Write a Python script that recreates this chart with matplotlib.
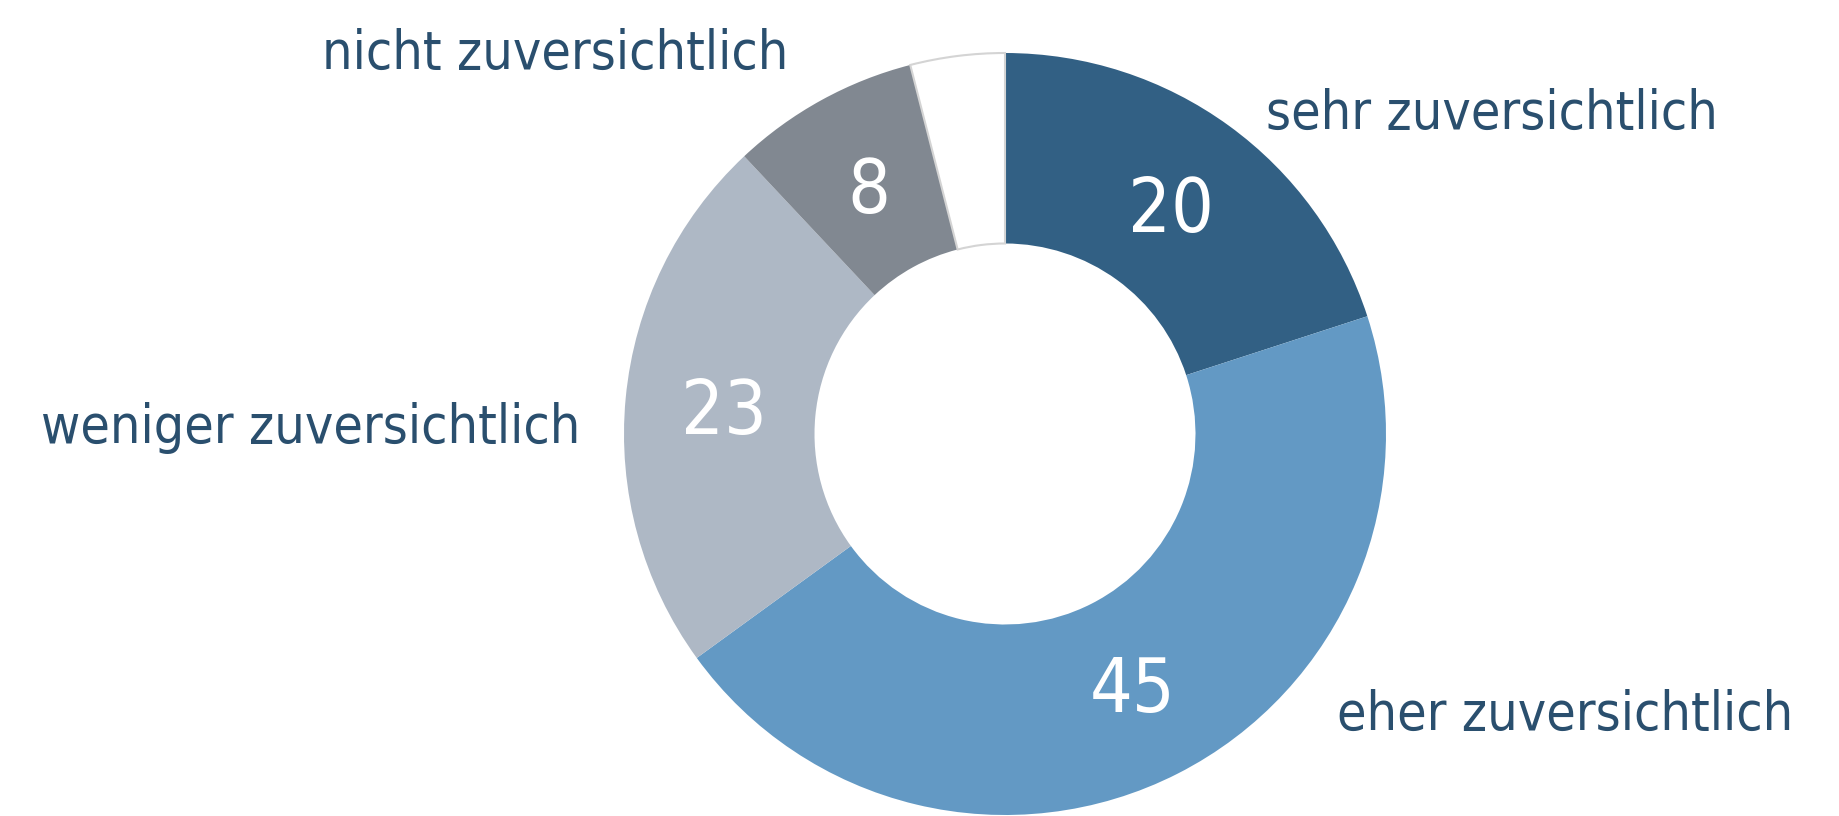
import matplotlib
matplotlib.use("Agg")
import matplotlib.pyplot as plt
import numpy as np

labels = ["sehr zuversichtlich", "eher zuversichtlich", "weniger zuversichtlich",
          "nicht zuversichtlich", ""]
values = [20, 45, 23, 8, 4]
shown = ["20", "45", "23", "8", ""]
colors = ["#326084", "#6399C4", "#AEB8C5", "#818891", "#FFFFFF"]

W, H = 1839, 816
fig = plt.figure(figsize=(W / 100, H / 100), dpi=100)
ax = fig.add_axes([0, 0, 1, 1])

cx, cy, r = 1005, H - 434, 381
font = ["DejaVu Sans"]

wedges, _ = ax.pie(values, colors=colors, startangle=90, counterclock=False,
                   center=(cx, cy), radius=r, frame=True,
                   wedgeprops=dict(width=r * 0.5, linewidth=0))
wedges[-1].set_edgecolor("#d4d4d4")
wedges[-1].set_linewidth(1.5)
ax.set_xlim(0, W)
ax.set_ylim(0, H)
ax.set_aspect("equal")
ax.axis("off")

start = 90.0
for w, v, s in zip(wedges, values, shown):
    mid = np.deg2rad(start - v * 3.6 / 2)
    start -= v * 3.6
    if s:
        ax.text(cx + 0.74 * r * np.cos(mid), cy + 0.74 * r * np.sin(mid) - 6, s,
                ha="center", va="center", color="white", fontsize=54,
                family=font, fontstretch="condensed")

# category labels
label_pos = {
    "sehr zuversichtlich": (1266, 114, "left"),
    "eher zuversichtlich": (1337, 715, "left"),
    "weniger zuversichtlich": (580, 428, "right"),
    "nicht zuversichtlich": (788, 54, "right"),
}
for name, (x, y, ha) in label_pos.items():
    ax.text(x, H - y, name, ha=ha, va="center", color="#2A4F6E",
            fontsize=38.5, family=font, fontstretch="condensed")

fig.savefig("out.png", dpi=100)
